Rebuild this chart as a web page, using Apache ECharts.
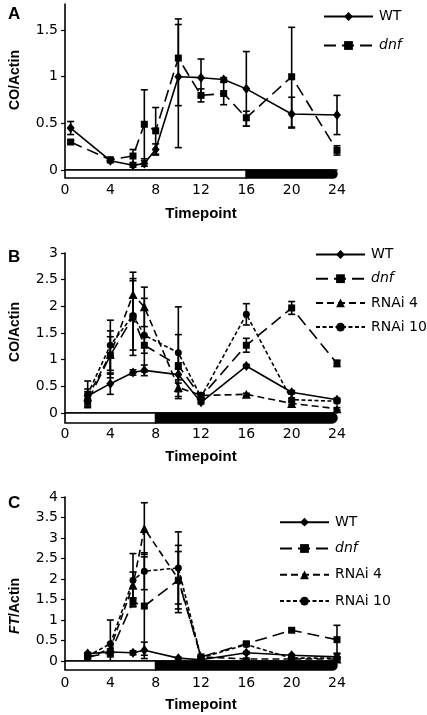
<!DOCTYPE html>
<html><head><meta charset="utf-8">
<script src="https://cdn.jsdelivr.net/npm/echarts@6/dist/echarts.min.js"></script>
<style>html,body{margin:0;padding:0;background:#fff}#c{width:427px;height:715px}</style>
</head><body><div id="c"></div>
<script>
// ---------- Panel A ----------
const timeA = [0.5, 4, 6, 7, 8, 10, 12, 14, 16, 20, 24];
const wtA   = [0.45, 0.10, 0.05, 0.07, 0.22, 1.00, 0.99, 0.97, 0.87, 0.60, 0.59];
const wtA_lo = [0.38, 0.08, 0.03, 0.04, 0.16, 0.24, 0.79, 0.95, 0.47, 0.45, 0.38];
const wtA_hi = [0.52, 0.12, 0.07, 0.10, 0.28, 1.56, 1.19, 0.99, 1.27, 0.78, 0.80];
const dnfA  = [0.30, 0.11, 0.15, 0.49, 0.42, 1.20, 0.80, 0.82, 0.56, 1.00, 0.21];
const dnfA_lo = [0.28, 0.09, 0.08, 0.12, 0.17, 0.69, 0.73, 0.70, 0.47, 0.46, 0.16];
const dnfA_hi = [0.32, 0.13, 0.22, 0.86, 0.67, 1.62, 0.87, 0.94, 0.63, 1.53, 0.26];
const lightA = [[0, 16, 0], [16, 24, 1]];
const yTicksA = [0, 0.5, 1, 1.5];

// ---------- Panel B ----------
const timeB = [2, 4, 6, 7, 10, 12, 16, 20, 24];
const wtB     = [0.32, 0.55, 0.76, 0.80, 0.72, 0.20, 0.88, 0.39, 0.25];
const wtB_err = [0.08, 0.20, 0.05, 0.10, 0.10, 0.03, 0.03, 0.03, 0.03];
const dnfB     = [0.22, 1.08, 1.80, 1.27, 0.89, 0.30, 1.27, 1.97, 0.93];
const dnfB_err = [0.10, 0.35, 0.72, 0.15, 0.58, 0.05, 0.13, 0.12, 0.06];
const r4B     = [0.30, 1.10, 2.22, 1.99, 0.48, 0.33, 0.35, 0.18, 0.08];
const r4B_err = [0.15, 0.44, 0.42, 0.37, 0.08, 0.05, 0.02, 0.02, 0.02];
const r10B     = [0.35, 1.27, 1.83, 1.46, 1.13, 0.30, 1.85, 0.25, 0.22];
const r10B_err = [0.25, 0.47, 0.65, 0.69, 0.86, 0.05, 0.20, 0.03, 0.03];
const lightB = [[0, 8, 0], [8, 24, 1]];
const yTicksB = [0, 0.5, 1, 1.5, 2, 2.5, 3];

// ---------- Panel C ----------
const timeC = [2, 4, 6, 7, 10, 12, 16, 20, 24];
const wtC     = [0.18, 0.22, 0.20, 0.26, 0.07, 0.03, 0.20, 0.14, 0.10];
const wtC_err = [0.03, 0.03, 0.05, 0.20, 0.02, 0.02, 0.03, 0.02, 0.09];
const dnfC     = [0.10, 0.20, 1.44, 1.34, 1.97, 0.10, 0.42, 0.75, 0.52];
const dnfC_err = [0.03, 0.10, 0.10, 1.20, 0.70, 0.03, 0.04, 0.04, 0.35];
const r4C     = [0.08, 0.30, 1.85, 3.23, 2.00, 0.10, 0.05, 0.05, 0.05];
const r4C_err = [0.02, 0.10, 0.32, 0.63, 0.82, 0.02, 0.02, 0.02, 0.02];
const r10C     = [0.12, 0.42, 1.97, 2.19, 2.27, 0.08, 0.40, 0.07, 0.07];
const r10C_err = [0.03, 0.58, 0.65, 0.45, 0.88, 0.02, 0.03, 0.02, 0.02];
const lightC = [[0, 8, 0], [8, 24, 1]];
const yTicksC = [0, 0.5, 1, 1.5, 2, 2.5, 3, 3.5, 4];

// ---------- styles ----------
const FONT = 'DejaVu Sans';
const BOLD = 'Liberation Sans';
const STY = {
  WT:     {symbol: 'diamond',  size: [8, 10], dash: 'solid'},
  dnf:    {symbol: 'rect',     size: 7,       dash: [12, 6]},
  'RNAi 4':  {symbol: 'triangle', size: 9,   dash: [7, 4]},
  'RNAi 10': {symbol: 'circle',   size: 7,   dash: [4, 2.5]}
};

function lineSeries(name, idx, times, vals) {
  const s = STY[name];
  return {
    name, type: 'line', xAxisIndex: idx, yAxisIndex: idx,
    data: times.map((t, i) => [t, vals[i]]),
    symbol: s.symbol, symbolSize: s.size, showSymbol: true,
    lineStyle: {color: '#000', width: 1.6, type: s.dash},
    itemStyle: {color: '#000'},
    animation: false, z: 5
  };
}
function errRender(params, api) {
  const x = api.value(0), lo = api.value(1), hi = api.value(2);
  const a = api.coord([x, hi]), b = api.coord([x, lo]);
  const w = 3.5;
  const st = {stroke: '#000', lineWidth: 1.6};
  return {type: 'group', children: [
    {type: 'line', shape: {x1: a[0], y1: a[1], x2: b[0], y2: b[1]}, style: st},
    {type: 'line', shape: {x1: a[0] - w, y1: a[1], x2: a[0] + w, y2: a[1]}, style: st},
    {type: 'line', shape: {x1: b[0] - w, y1: b[1], x2: b[0] + w, y2: b[1]}, style: st}
  ]};
}
function errSeries(idx, data) {
  return {type: 'custom', xAxisIndex: idx, yAxisIndex: idx, renderItem: errRender,
    data, encode: {x: 0, y: [1, 2]}, silent: true, animation: false, z: 4, clip: false};
}
function errSym(times, vals, err) { return times.map((t, i) => [t, vals[i] - err[i], vals[i] + err[i]]); }
function errAbs(times, lo, hi) { return times.map((t, i) => [t, lo[i], hi[i]]); }
function lightSeries(idx, data, h) {
  return {type: 'custom', xAxisIndex: idx, yAxisIndex: idx, silent: true, animation: false, z: 8, clip: false,
    data, encode: {x: [0, 1]},
    renderItem: function (params, api) {
      const p1 = api.coord([api.value(0), 0]), p2 = api.coord([api.value(1), 0]);
      const dark = api.value(2) === 1;
      return {type: 'rect', shape: {x: p1[0], y: p1[1], width: p2[0] - p1[0], height: h,
          r: dark ? [0, h / 2, h / 2, 0] : 0},
        style: {fill: dark ? '#000' : '#fff', stroke: '#000', lineWidth: 1.6}};
    }};
}

const grids = [
  {left: 57, right: 90, top: 4, bottom: 545},
  {left: 57, right: 90, top: 253, bottom: 302},
  {left: 57, right: 90, top: 497, bottom: 54}
];
const yMax = [1.78, 3, 4];
const yTickSets = [yTicksA, yTicksB, yTicksC];
const xLabelMargin = [13, 14, 15];
const yNames = ['CO/Actin', 'CO/Actin', '{i|FT}/Actin'];
const yNamePad = [[0, 0, 0, 14], [0, 0, 0, 2], [0, 54, 0, 0]];

const xAxes = grids.map((g, i) => ({
  type: 'value', gridIndex: i, min: 0, max: 24, interval: 4,
  axisLine: {show: true, onZero: false, lineStyle: {color: '#000', width: 1.6}},
  axisTick: {show: false}, splitLine: {show: false},
  axisLabel: {color: '#000', fontFamily: FONT, fontSize: 14, margin: xLabelMargin[i]},
  name: 'Timepoint', nameLocation: 'middle', nameGap: 36,
  nameTextStyle: {color: '#000', fontFamily: BOLD, fontWeight: 'bold', fontSize: 15}
}));
const yAxes = grids.map((g, i) => ({
  type: 'value', gridIndex: i, min: 0, max: yMax[i], interval: 0.5,
  axisLine: {show: true, lineStyle: {color: '#000', width: 1.6}},
  axisTick: {show: true, length: 4, lineStyle: {color: '#000', width: 1.2}, customValues: yTickSets[i]},
  splitLine: {show: false},
  axisLabel: {color: '#000', fontFamily: FONT, fontSize: 14, margin: 7, customValues: yTickSets[i],
    formatter: v => (Math.abs(v * 2 - Math.round(v * 2)) < 1e-6 ? String(v) : '')},
  name: yNames[i], nameLocation: 'middle', nameGap: 43,
  nameTextStyle: {color: '#000', fontFamily: BOLD, fontWeight: 'bold', fontSize: 14, padding: yNamePad[i],
    rich: {i: {fontFamily: BOLD, fontWeight: 'bold', fontStyle: 'italic', fontSize: 14, color: '#000'}}}
}));

function legend(names, left, top, gap) {
  return {orient: 'vertical', left, top, padding: 0, itemWidth: 49, itemHeight: 11, itemGap: gap,
    data: names, selectedMode: false, itemStyle: {color: '#000'},
    textStyle: {color: '#000', fontFamily: FONT, fontSize: 14, padding: [0, 0, 0, 1],
      rich: {i: {fontFamily: FONT, fontStyle: 'italic', fontSize: 14, color: '#000'}}},
    formatter: n => (n === 'dnf' ? '{i|dnf}' : n)};
}

const series = [
  errSeries(0, errAbs(timeA, wtA_lo, wtA_hi)),
  errSeries(0, errAbs(timeA, dnfA_lo, dnfA_hi)),
  lineSeries('WT', 0, timeA, wtA),
  lineSeries('dnf', 0, timeA, dnfA),
  lightSeries(0, lightA, 8),

  errSeries(1, errSym(timeB, wtB, wtB_err)),
  errSeries(1, errSym(timeB, dnfB, dnfB_err)),
  errSeries(1, errSym(timeB, r4B, r4B_err)),
  errSeries(1, errSym(timeB, r10B, r10B_err)),
  lineSeries('WT', 1, timeB, wtB),
  lineSeries('dnf', 1, timeB, dnfB),
  lineSeries('RNAi 4', 1, timeB, r4B),
  lineSeries('RNAi 10', 1, timeB, r10B),
  lightSeries(1, lightB, 10),

  errSeries(2, errSym(timeC, wtC, wtC_err)),
  errSeries(2, errSym(timeC, dnfC, dnfC_err)),
  errSeries(2, errSym(timeC, r4C, r4C_err)),
  errSeries(2, errSym(timeC, r10C, r10C_err)),
  lineSeries('WT', 2, timeC, wtC),
  lineSeries('dnf', 2, timeC, dnfC),
  lineSeries('RNAi 4', 2, timeC, r4C),
  lineSeries('RNAi 10', 2, timeC, r10C),
  lightSeries(2, lightC, 9)
];

const chart = echarts.init(document.getElementById('c'));
chart.setOption({
  backgroundColor: '#fff',
  animation: false,
  title: [
    {text: 'A', left: 3, top: 1, textStyle: {fontFamily: BOLD, fontWeight: 'bold', fontSize: 17, color: '#000'}},
    {text: 'B', left: 3, top: 244, textStyle: {fontFamily: BOLD, fontWeight: 'bold', fontSize: 17, color: '#000'}},
    {text: 'C', left: 3, top: 490, textStyle: {fontFamily: BOLD, fontWeight: 'bold', fontSize: 17, color: '#000'}}
  ],
  legend: [
    legend(['WT', 'dnf'], 323, 9.5, 15),
    legend(['WT', 'dnf', 'RNAi 4', 'RNAi 10'], 315, 247.5, 10.2),
    legend(['WT', 'dnf', 'RNAi 4', 'RNAi 10'], 279, 515.2, 12.3)
  ],
  grid: grids,
  xAxis: xAxes,
  yAxis: yAxes,
  series
});
</script></body></html>
